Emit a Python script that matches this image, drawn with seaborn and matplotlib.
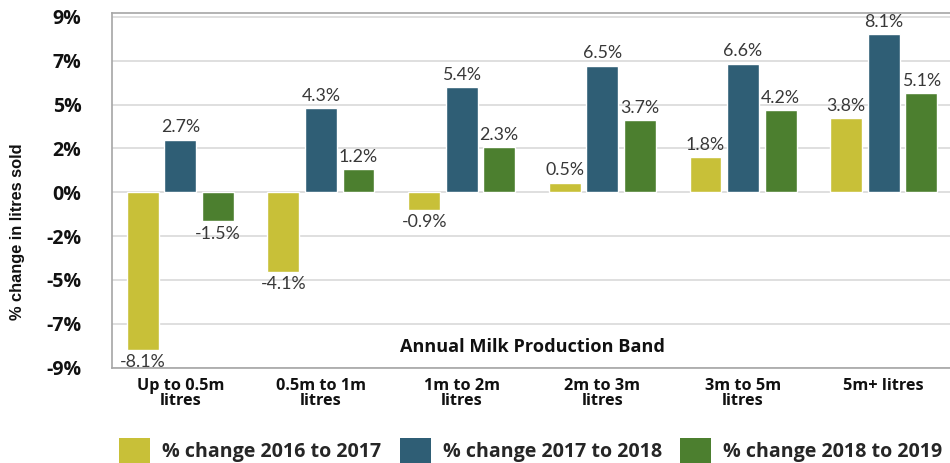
import matplotlib
matplotlib.use("Agg")
import matplotlib.pyplot as plt
import seaborn as sns
import pandas as pd
from matplotlib.patches import Patch
from matplotlib.font_manager import FontProperties

# Production bands and year-on-year change in litres sold (%)
bands = ["Up to 0.5m\nlitres", "0.5m to 1m\nlitres", "1m to 2m\nlitres",
         "2m to 3m\nlitres", "3m to 5m\nlitres", "5m+ litres"]
periods = ["% change 2016 to 2017", "% change 2017 to 2018", "% change 2018 to 2019"]
change_2016_2017 = [-8.1, -4.1, -0.9, 0.5, 1.8, 3.8]
change_2017_2018 = [2.7, 4.3, 5.4, 6.5, 6.6, 8.1]
change_2018_2019 = [-1.5, 1.2, 2.3, 3.7, 4.2, 5.1]
y_ticks = [-9, -6.75, -4.5, -2.25, 0, 2.25, 4.5, 6.75, 9]
y_tick_labels = ["-9%", "-7%", "-5%", "-2%", "0%", "2%", "5%", "7%", "9%"]
colors = ["#C8C038", "#2F5E75", "#4C7F2F"]

series = [change_2016_2017, change_2017_2018, change_2018_2019]
df = pd.DataFrame({
    "band": bands * 3,
    "change": [v for s in series for v in s],
    "period": [p for p in periods for _ in bands],
})

sns.set_theme(style="white")
plt.rcParams["font.family"] = ["Open Sans", "DejaVu Sans"]
label_font = ["Lato", "DejaVu Sans"]

fig = plt.figure(figsize=(9.5, 4.63), dpi=100)
ax = fig.add_axes([112 / 950, 95.3 / 463, 840 / 950, 354.4 / 463])

sns.barplot(data=df, x="band", y="change", hue="period", order=bands,
            hue_order=periods, palette=colors, saturation=1, width=0.8,
            gap=0.15, legend=False, ax=ax)

ax.set_xlim(-0.485, 5.485)
ax.set_ylim(-9, 9.18)
ax.set_yticks(y_ticks)
ax.set_yticklabels(y_tick_labels)
ax.set_axisbelow(True)
ax.yaxis.grid(True, color="#D9D9D9", linewidth=1.2)
ax.xaxis.grid(False)

for side in ["left", "top", "bottom"]:
    ax.spines[side].set_color("#A6A6A6")
    ax.spines[side].set_linewidth(1.2)
ax.spines["right"].set_visible(False)

ax.tick_params(axis="y", length=0, pad=22, labelsize=14, labelcolor="#111111")
ax.tick_params(axis="x", length=0, pad=7.5, labelsize=11.7, labelcolor="#111111")
for lab in ax.get_yticklabels():
    lab.set_fontweight("bold")
for lab in ax.get_xticklabels():
    lab.set_fontweight("bold")
    lab.set_linespacing(0.9)

ax.set_xlabel("Annual Milk Production Band", fontsize=13.1, fontweight="bold",
              color="#111111")
ax.xaxis.set_label_coords(0.5, 0.058)
ax.xaxis.label.set_va("center")

ylabel_font = FontProperties(family="Liberation Sans", weight="bold", size=11.8)
ax.set_ylabel("% change in litres sold", fontproperties=ylabel_font,
              color="#111111")
ax.yaxis.set_label_coords(18 / 950, 0.5, transform=fig.transFigure)
ax.yaxis.label.set_va("center")

for cont in ax.containers:
    ax.bar_label(cont, fmt="%.1f%%", padding=3, fontsize=12.8,
                 color="#383838", family=label_font)

handles = [Patch(facecolor=c, edgecolor="none") for c in colors]
fig.legend(handles=handles, labels=periods, loc="center left",
           bbox_to_anchor=(119 / 950, 12.5 / 463), ncol=3, frameon=False,
           handlelength=1.58, handleheight=1.58, handletextpad=0.61,
           columnspacing=0.95, borderpad=0, borderaxespad=0,
           prop={"weight": "bold", "size": 14.1})

fig.savefig("out.png", dpi=100)
